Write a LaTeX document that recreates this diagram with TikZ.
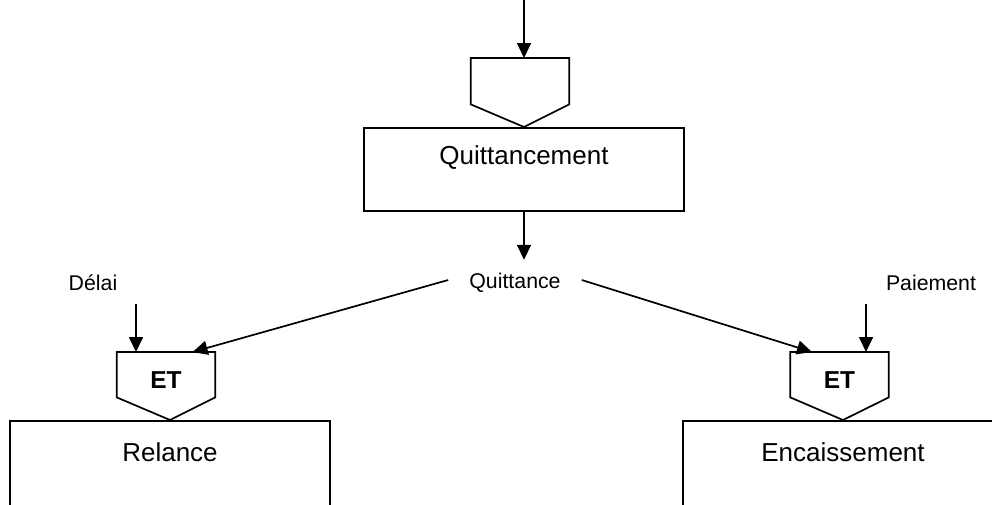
\documentclass[tikz,border=0pt]{standalone}
\usepackage{fontspec}
\setmainfont{Liberation Sans}
\usetikzlibrary{arrows.meta,calc}
\begin{document}
\begin{tikzpicture}[x=1pt,y=-1pt,
  line/.style={line width=1.7pt},
  arr/.style={line, -{Triangle[length=15pt,width=14pt]}},
  box/.style={draw, line width=1.7pt, minimum width=320pt, inner sep=0pt, anchor=north, font=\fontsize{26}{30}\selectfont},
  gate/.style={inner sep=0pt, minimum width=98pt, text height=36pt, text depth=9pt, anchor=north, font=\fontsize{24.5}{28}\selectfont\bfseries},
  small/.style={font=\fontsize{21.3}{25}\selectfont, inner sep=0pt},
  pent/.style={line, line join=miter}]
\useasboundingbox (0,0) rectangle (992,504);
% boxes
\node[box, text height=36.6pt, text depth=46.4pt] (q) at (524,127) {Quittancement};
\node[box, text height=40.6pt, text depth=44.4pt] (rel) at (170,420) {Relance};
\node[box, text height=40.6pt, text depth=44.4pt] (enc) at (843,420) {Encaissement};
% gates
\node[gate, text height=37pt] (g0) at (520,58) {};
\node[gate] (g1) at (166,352) {ET};
\node[gate] (g2) at (839.5,352) {ET};
\draw[pent] (g0.north west) -- (g0.north east) -- (g0.south east) -- (q.north) -- (g0.south west) -- cycle;
\draw[pent] (g1.north west) -- (g1.north east) -- (g1.south east) -- (rel.north) -- (g1.south west) -- cycle;
\draw[pent] (g2.north west) -- (g2.north east) -- (g2.south east) -- (enc.north) -- (g2.south west) -- cycle;
% labels
\node[small, minimum height=46pt, inner xsep=21pt] (qt) at (515,283) {Quittance};
\node[small] (dl) at (93,283) {Délai};
\node[small] (pm) at (931,283) {Paiement};
% free ends
\coordinate (top) at (524,0);
\coordinate (dla) at (136,304);
\coordinate (pma) at (866,304);
% connectors
\draw[arr] (top) -- (top |- g0.north);
\draw[arr] (q.south) -- (q.south |- qt.north);
\draw[arr] ([yshift=3pt]qt.west) -- ($(g1.north west)!0.77!(g1.north east)$);
\draw[arr] ([yshift=3pt]qt.east) -- ($(g2.north west)!0.22!(g2.north east)$);
\draw[arr] (dla) -- (dla |- g1.north);
\draw[arr] (pma) -- (pma |- g2.north);
\end{tikzpicture}
\end{document}
